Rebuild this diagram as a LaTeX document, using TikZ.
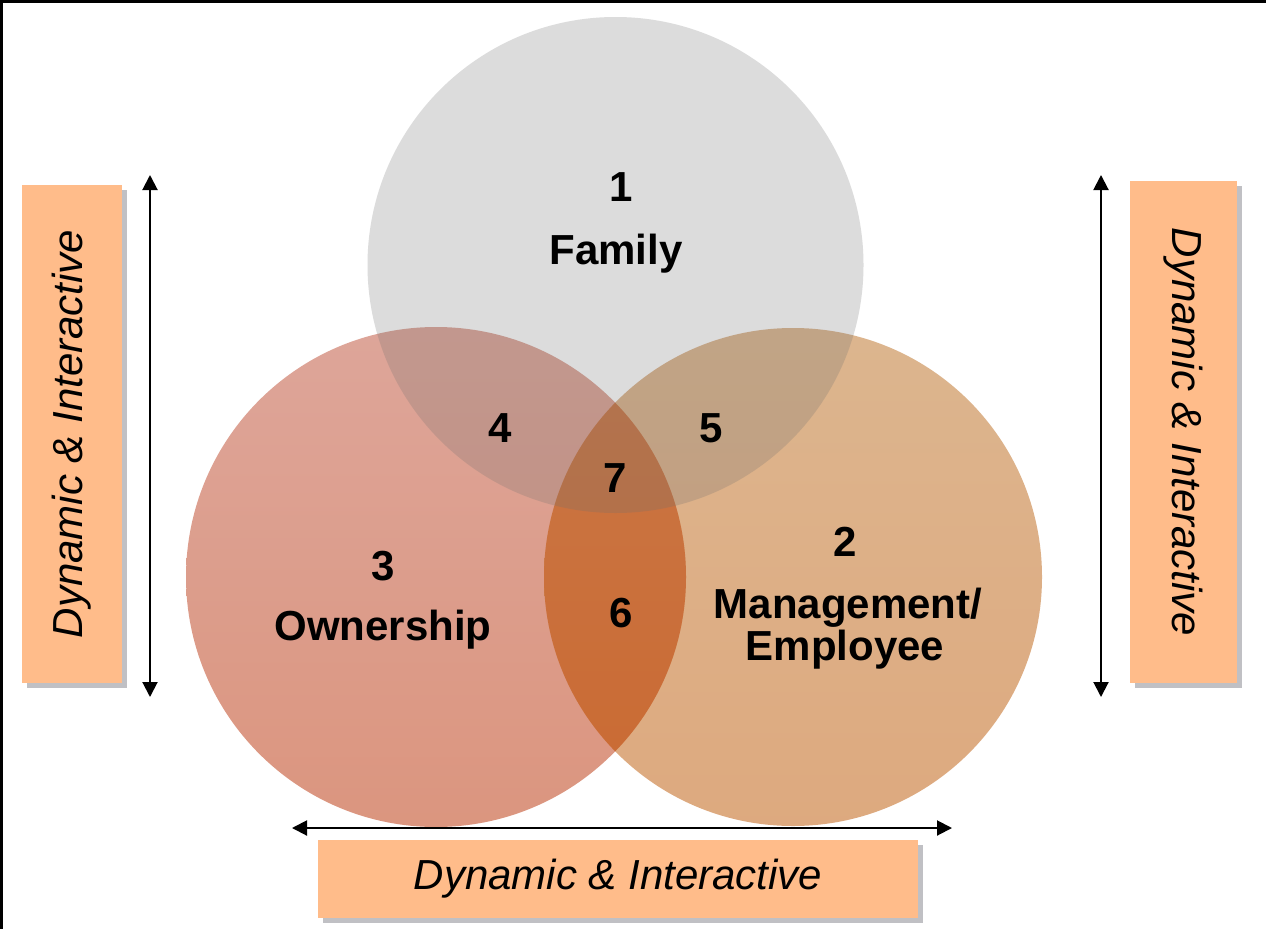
\documentclass[tikz,border=0pt]{standalone}
\usepackage{fontspec}
\setmainfont{Liberation Sans}
\usetikzlibrary{arrows.meta,shadows}
\definecolor{boxfill}{RGB}{255,188,138}
\definecolor{shadowgray}{RGB}{192,192,196}
\definecolor{ownTop}{RGB}{189,77,53}
\definecolor{ownBot}{RGB}{185,45,0}
\definecolor{manTop}{RGB}{187,109,31}
\definecolor{manBot}{RGB}{189,85,0}
\definecolor{lensTint}{RGB}{200,78,18}
\definecolor{famGray}{RGB}{110,110,110}
\tikzset{
  circlabel/.style={font=\bfseries\fontsize{42}{46}\selectfont, anchor=base, inner sep=0pt, align=center},
  boxstyle/.style={rectangle, fill=boxfill, draw=none, inner sep=0pt,
    drop shadow={shadow xshift=5pt, shadow yshift=-5pt, fill=shadowgray, opacity=1}},
  boxtext/.style={font=\itshape\fontsize{42}{48}\selectfont, inner sep=0pt},
  dbl/.style={line width=2pt, {Triangle[length=15pt,width=15pt]}-{Triangle[length=15pt,width=15pt]}}
}
\begin{document}
\begin{tikzpicture}[x=1pt,y=-1pt]
\useasboundingbox (0,0) rectangle (1266,929);
\fill[white] (0,0) rectangle (1266,929);
% frame (top and left only)
\draw[line width=5pt] (0,929) -- (0,0) -- (1266,0);

% circles
\shade[top color=ownTop, bottom color=ownBot, fill opacity=0.5] (436,577) circle (250pt);
\shade[top color=manTop, bottom color=manBot, fill opacity=0.5] (793,577) circle (249pt);
\begin{scope}
  \clip (436,577) circle (250pt);
  \fill[lensTint, fill opacity=0.28] (793,577) circle (249pt);
\end{scope}
\fill[famGray, fill opacity=0.24] (615.5,265) circle (248pt);

% circle labels
\node[circlabel] (n1) at (621,201) {1};
\node[circlabel] (fam) at (616,264) {Family};
\node[circlabel] (n4) at (500,442) {4};
\node[circlabel] (n5) at (711,442) {5};
\node[circlabel] (n7) at (615,492) {7};
\node[circlabel] (n3) at (383,580) {3};
\node[circlabel] (own) at (383,640) {Ownership};
\node[circlabel] (n6) at (621,627) {6};
\node[circlabel] (n2) at (845,556) {2};
\node[circlabel] (man) at (848,618) {Management/};
\node[circlabel] (emp) at (845,660) {Employee};

% boxes
\node[boxstyle, minimum width=100pt, minimum height=498pt] (lbox) at (72,434) {};
\node[boxtext, rotate=90] (ltext) at (lbox.center) {Dynamic \& Interactive};
\node[boxstyle, minimum width=107pt, minimum height=502pt] (rbox) at (1183.5,432) {};
\node[boxtext, rotate=-90] (rtext) at (rbox.center) {Dynamic \& Interactive};
\node[boxstyle, minimum width=600pt, minimum height=78pt] (bbox) at (618,879) {};
\node[boxtext] (btext) at (bbox.center) {Dynamic \& Interactive};

% arrows
\coordinate (la1) at (150,175);
\coordinate (la2) at (150,697);
\coordinate (ra1) at (1101,175);
\coordinate (ra2) at (1101,697);
\coordinate (ba1) at (292,828);
\coordinate (ba2) at (952,828);
\draw[dbl] (la1) -- (la2);
\draw[dbl] (ra1) -- (ra2);
\draw[dbl] (ba1) -- (ba2);
\end{tikzpicture}
\end{document}
